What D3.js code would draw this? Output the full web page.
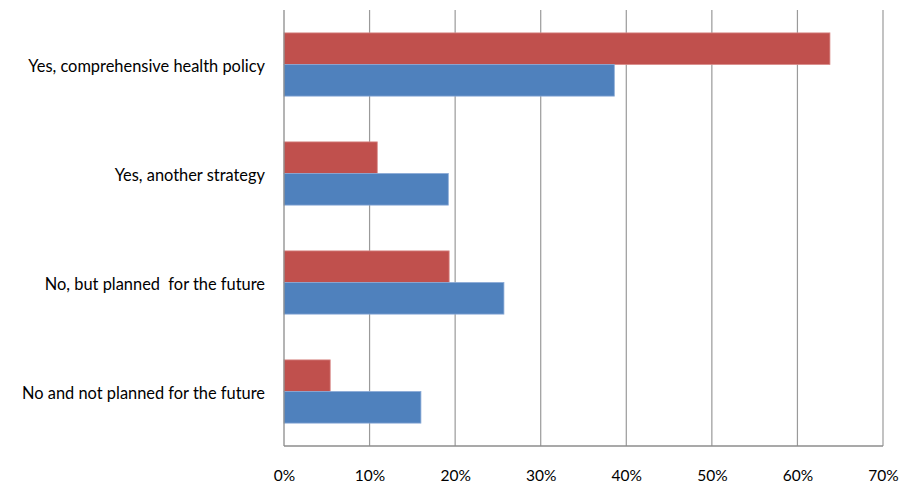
<!DOCTYPE html>
<html>
<head>
<meta charset="utf-8">
<script src="https://cdn.jsdelivr.net/npm/d3@7"></script>
<style>
  html, body { margin: 0; padding: 0; background: #fff; }
  svg { display: block; }
  text { font-family: Lato, "Open Sans", sans-serif; fill: #000; }
</style>
</head>
<body>
<svg id="chart" width="902" height="484"></svg>
<script>
// Survey answers (top to bottom)
const categories = [
  "Yes, comprehensive health policy",
  "Yes, another strategy",
  "No, but planned  for the future",
  "No and not planned for the future"
];
// Share of respondents, in percent
const seriesRed  = [63.8, 10.9, 19.3, 5.4];
const seriesBlue = [38.6, 19.2, 25.7, 16.0];
const xTicks = [0, 10, 20, 30, 40, 50, 60, 70];

const series = [
  { key: "red",  values: seriesRed,  color: "#C0504D" },
  { key: "blue", values: seriesBlue, color: "#4F81BD" }
];

const margin = { top: 10, right: 19, bottom: 38, left: 284 };
const width = 902, height = 484;
const fontSize = "16.4px";
const svg = d3.select("#chart");

const x = d3.scaleLinear().domain([0, 70]).range([margin.left, width - margin.right]);
const y = d3.scaleBand().domain(categories)
  .range([margin.top, height - margin.bottom])
  .paddingInner(0.42).paddingOuter(0.21);
const ySub = d3.scaleBand().domain(series.map(s => s.key)).range([0, y.bandwidth()]);

// Vertical gridlines
svg.append("g")
  .selectAll("line")
  .data(xTicks.slice(1))
  .join("line")
  .attr("x1", d => x(d)).attr("x2", d => x(d))
  .attr("y1", margin.top).attr("y2", height - margin.bottom)
  .attr("stroke", "#9a9a9a").attr("stroke-width", 1.2);

// Bars
const rows = categories.map((c, i) => series.map(s => ({ cat: c, key: s.key, value: s.values[i], color: s.color }))).flat();
svg.append("g")
  .selectAll("rect")
  .data(rows)
  .join("rect")
  .attr("x", x(0))
  .attr("y", d => y(d.cat) + ySub(d.key))
  .attr("width", d => x(d.value) - x(0))
  .attr("height", ySub.bandwidth())
  .attr("fill", d => d.color)
  .attr("stroke", d => d.key === "red" ? "#d98b89" : "#8aaad6")
  .attr("stroke-width", 0.8);

// Axis lines
svg.append("line")
  .attr("x1", x(0)).attr("x2", x(0))
  .attr("y1", margin.top).attr("y2", height - margin.bottom)
  .attr("stroke", "#8c8c8c").attr("stroke-width", 1.3);
svg.append("line")
  .attr("x1", x(0)).attr("x2", x(70))
  .attr("y1", height - margin.bottom).attr("y2", height - margin.bottom)
  .attr("stroke", "#8c8c8c").attr("stroke-width", 1.3);

// Tick labels
const xAxis = d3.axisBottom(x).tickValues(xTicks).tickFormat(d => d + "%").tickSize(0).tickPadding(24);
const gx = svg.append("g")
  .attr("transform", `translate(0,${height - margin.bottom})`)
  .call(xAxis);
gx.select(".domain").remove();
gx.selectAll("text").style("font-family", "Lato, 'Open Sans', sans-serif").style("font-size", "15.5px").attr("fill", "#000");

// Category labels
svg.append("g")
  .selectAll("text")
  .data(categories)
  .join("text")
  .attr("x", x(0) - 19)
  .attr("y", d => y(d) + y.bandwidth() / 2 + 1.5)
  .attr("dy", "0.35em")
  .attr("text-anchor", "end")
  .style("font-size", fontSize)
  .style("white-space", "pre")
  .attr("xml:space", "preserve")
  .text(d => d);
</script>
</body>
</html>
